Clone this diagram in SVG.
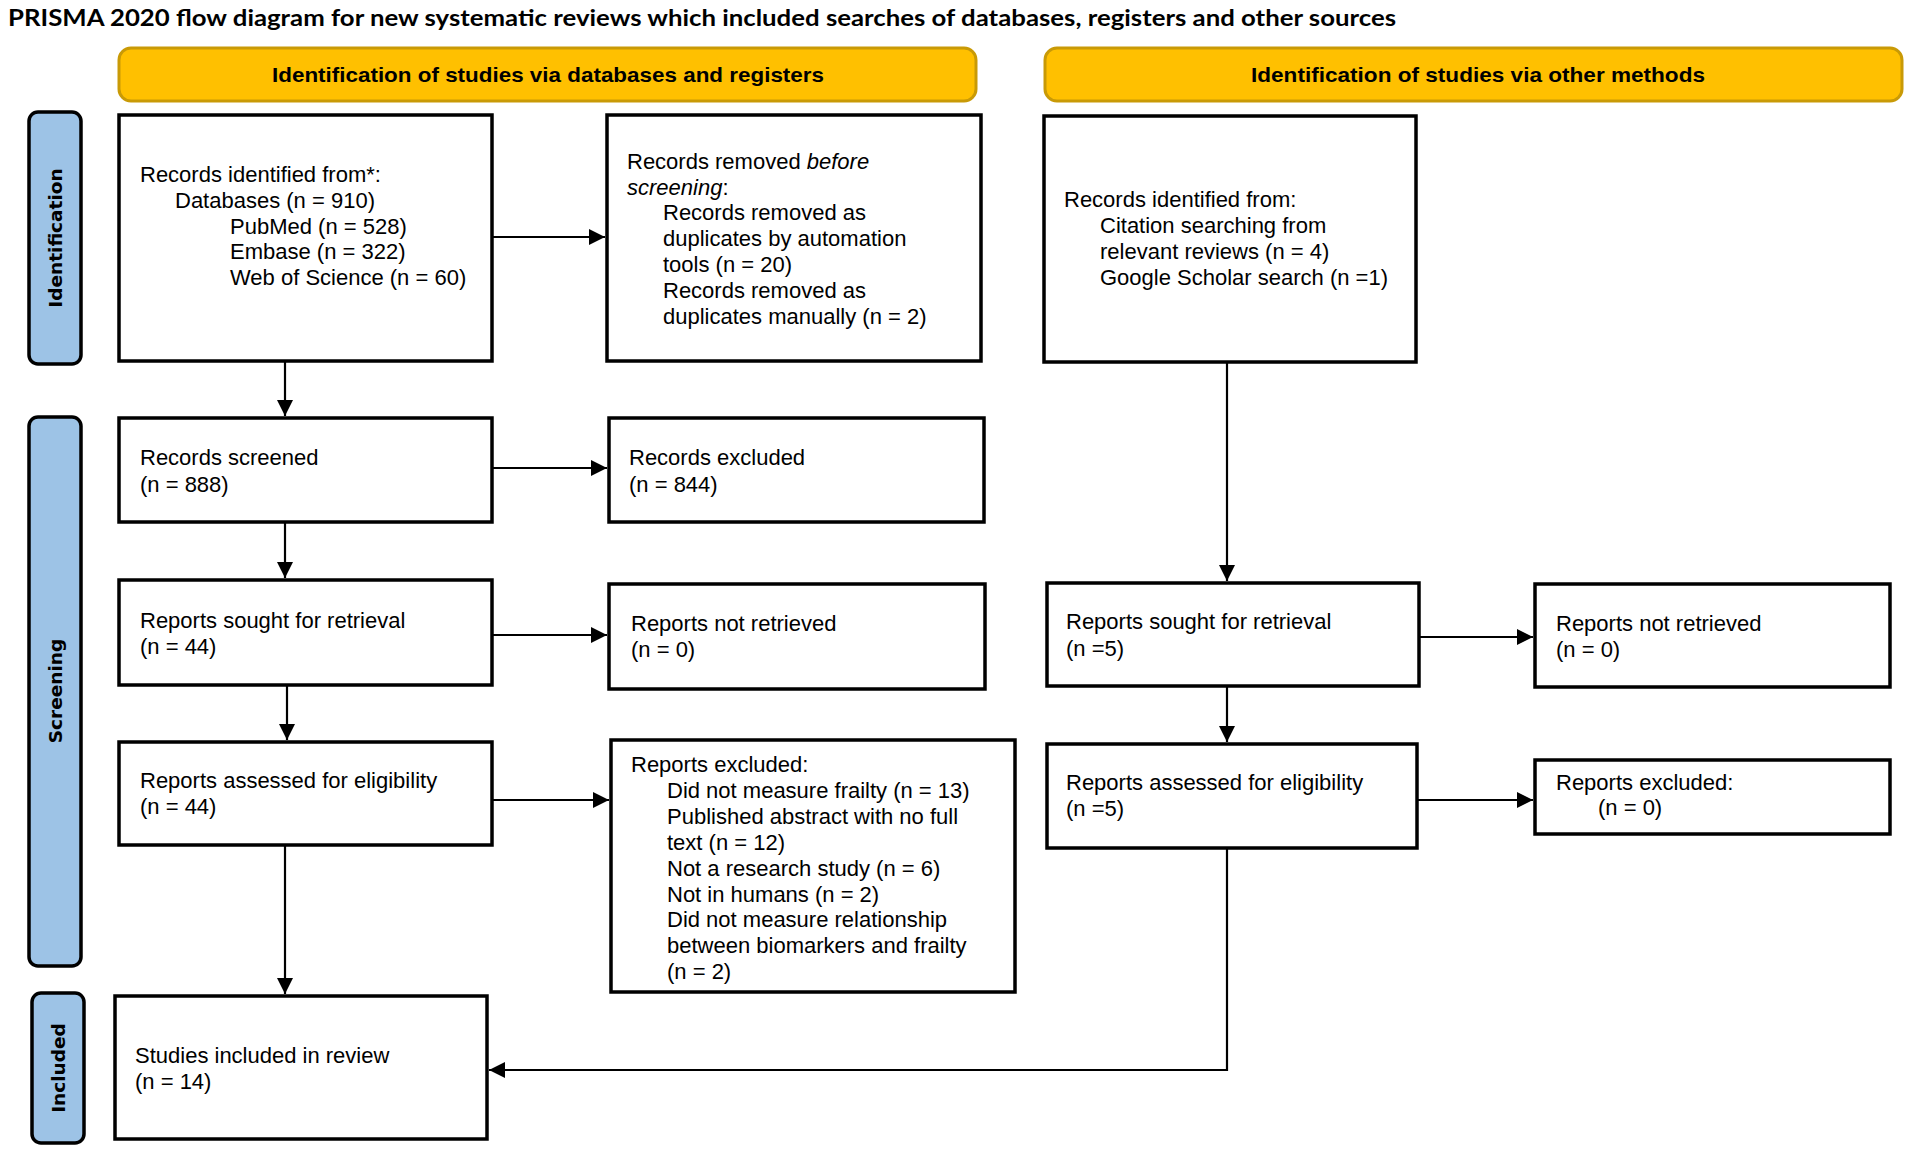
<svg xmlns="http://www.w3.org/2000/svg" width="1913" height="1157" viewBox="0 0 1913 1157">
<style>
.box{fill:#fff;stroke:#000;stroke-width:3.5}
.hdr{fill:#FFC000;stroke:#C99A06;stroke-width:3}
.side{fill:#9DC3E6;stroke:#000;stroke-width:3.5}
.t{font-family:"Liberation Sans",Arial,sans-serif;font-size:22px;fill:#000}
.ht{font-family:"Liberation Sans",Arial,sans-serif;font-size:21px;font-weight:bold;fill:#000;text-anchor:middle}
.st{font-family:"DejaVu Sans",Verdana,sans-serif;font-size:18.5px;font-weight:bold;fill:#000;text-anchor:middle}
.ln{fill:none;stroke:#000;stroke-width:2.2}
</style>
<defs>
<marker id="ah" viewBox="0 0 16 16" refX="16" refY="8" markerWidth="16" markerHeight="16" markerUnits="userSpaceOnUse" orient="auto">
<path d="M0,0 L16,8 L0,16 Z" fill="#000"/>
</marker>
</defs>
<rect width="1913" height="1157" fill="#fff"/>
<text id="title" x="8" y="26" font-family="Lato,'Liberation Sans',sans-serif" font-size="23" font-weight="bold" textLength="1388" lengthAdjust="spacingAndGlyphs">PRISMA 2020 flow diagram for new systematic reviews which included searches of databases, registers and other sources</text>

<g id="hdr-db"><rect class="hdr" x="119" y="48" width="857" height="53" rx="12"/><text class="ht" x="548" y="82" textLength="552" lengthAdjust="spacingAndGlyphs">Identification of studies via databases and registers</text></g>
<g id="hdr-other"><rect class="hdr" x="1045" y="48" width="857" height="53" rx="12"/><text class="ht" x="1478" y="82" textLength="454" lengthAdjust="spacingAndGlyphs">Identification of studies via other methods</text></g>

<g id="side-identification"><rect class="side" x="29" y="112" width="52" height="252" rx="9"/><text class="st" transform="translate(62,238) rotate(-90)">Identification</text></g>
<g id="side-screening"><rect class="side" x="29" y="417" width="52" height="549" rx="9"/><text class="st" transform="translate(62,691) rotate(-90)">Screening</text></g>
<g id="side-included"><rect class="side" x="32" y="993" width="52" height="150" rx="9"/><text class="st" transform="translate(65,1068) rotate(-90)">Included</text></g>

<g id="records-identified"><rect class="box" x="119" y="115" width="373" height="246"/>
<text class="t" x="140" y="182">Records identified from*:</text>
<text class="t" x="175" y="208">Databases (n = 910)</text>
<text class="t" x="230" y="234">PubMed (n = 528)</text>
<text class="t" x="230" y="259">Embase (n = 322)</text>
<text class="t" x="230" y="285">Web of Science (n = 60)</text></g>

<g id="records-removed"><rect class="box" x="607" y="115" width="374" height="246"/>
<text class="t" x="627" y="169">Records removed <tspan font-style="italic">before</tspan></text>
<text class="t" x="627" y="195"><tspan font-style="italic">screening</tspan>:</text>
<text class="t" x="663" y="220">Records removed as</text>
<text class="t" x="663" y="246">duplicates by automation</text>
<text class="t" x="663" y="272">tools (n = 20)</text>
<text class="t" x="663" y="298">Records removed as</text>
<text class="t" x="663" y="324">duplicates manually (n = 2)</text></g>

<g id="other-identified"><rect class="box" x="1044" y="116" width="372" height="246"/>
<text class="t" x="1064" y="207">Records identified from:</text>
<text class="t" x="1100" y="233">Citation searching from</text>
<text class="t" x="1100" y="259">relevant reviews (n = 4)</text>
<text class="t" x="1100" y="285">Google Scholar search (n =1)</text></g>

<g id="records-screened"><rect class="box" x="119" y="418" width="373" height="104"/>
<text class="t" x="140" y="465">Records screened</text>
<text class="t" x="140" y="492">(n = 888)</text></g>

<g id="records-excluded"><rect class="box" x="609" y="418" width="375" height="104"/>
<text class="t" x="629" y="465">Records excluded</text>
<text class="t" x="629" y="492">(n = 844)</text></g>

<g id="sought-db"><rect class="box" x="119" y="580" width="373" height="105"/>
<text class="t" x="140" y="628">Reports sought for retrieval</text>
<text class="t" x="140" y="654">(n = 44)</text></g>

<g id="not-retrieved-db"><rect class="box" x="609" y="584" width="376" height="105"/>
<text class="t" x="631" y="631">Reports not retrieved</text>
<text class="t" x="631" y="657">(n = 0)</text></g>

<g id="assessed-db"><rect class="box" x="119" y="742" width="373" height="103"/>
<text class="t" x="140" y="788">Reports assessed for eligibility</text>
<text class="t" x="140" y="814">(n = 44)</text></g>

<g id="excluded-db"><rect class="box" x="611" y="740" width="404" height="252"/>
<text class="t" x="631" y="772">Reports excluded:</text>
<text class="t" x="667" y="798">Did not measure frailty (n = 13)</text>
<text class="t" x="667" y="824">Published abstract with no full</text>
<text class="t" x="667" y="850">text (n = 12)</text>
<text class="t" x="667" y="876">Not a research study (n = 6)</text>
<text class="t" x="667" y="902">Not in humans (n = 2)</text>
<text class="t" x="667" y="927">Did not measure relationship</text>
<text class="t" x="667" y="953">between biomarkers and frailty</text>
<text class="t" x="667" y="979">(n = 2)</text></g>

<g id="sought-other"><rect class="box" x="1047" y="583" width="372" height="103"/>
<text class="t" x="1066" y="629">Reports sought for retrieval</text>
<text class="t" x="1066" y="656">(n =5)</text></g>

<g id="not-retrieved-other"><rect class="box" x="1535" y="584" width="355" height="103"/>
<text class="t" x="1556" y="631">Reports not retrieved</text>
<text class="t" x="1556" y="657">(n = 0)</text></g>

<g id="assessed-other"><rect class="box" x="1047" y="744" width="370" height="104"/>
<text class="t" x="1066" y="790">Reports assessed for eligibility</text>
<text class="t" x="1066" y="816">(n =5)</text></g>

<g id="excluded-other"><rect class="box" x="1535" y="760" width="355" height="74"/>
<text class="t" x="1556" y="790">Reports excluded:</text>
<text class="t" x="1598" y="815">(n = 0)</text></g>

<g id="included"><rect class="box" x="115" y="996" width="372" height="143"/>
<text class="t" x="135" y="1063">Studies included in review</text>
<text class="t" x="135" y="1089">(n = 14)</text></g>

<g id="connectors">
<line class="ln" x1="492" y1="237" x2="605" y2="237" marker-end="url(#ah)" stroke-width="3"/>
<line class="ln" x1="285" y1="361" x2="285" y2="416" marker-end="url(#ah)"/>
<line class="ln" x1="492" y1="468" x2="607" y2="468" marker-end="url(#ah)"/>
<line class="ln" x1="285" y1="522" x2="285" y2="578" marker-end="url(#ah)"/>
<line class="ln" x1="492" y1="635" x2="607" y2="635" marker-end="url(#ah)"/>
<line class="ln" x1="287" y1="685" x2="287" y2="740" marker-end="url(#ah)"/>
<line class="ln" x1="492" y1="800" x2="609" y2="800" marker-end="url(#ah)" stroke-width="3"/>
<line class="ln" x1="285" y1="845" x2="285" y2="994" marker-end="url(#ah)"/>
<line class="ln" x1="1227" y1="362" x2="1227" y2="581" marker-end="url(#ah)"/>
<line class="ln" x1="1419" y1="637" x2="1533" y2="637" marker-end="url(#ah)"/>
<line class="ln" x1="1227" y1="686" x2="1227" y2="742" marker-end="url(#ah)"/>
<line class="ln" x1="1417" y1="800" x2="1533" y2="800" marker-end="url(#ah)" stroke-width="3"/>
<polyline class="ln" points="1227,848 1227,1070 489,1070" marker-end="url(#ah)"/>
</g>
</svg>
